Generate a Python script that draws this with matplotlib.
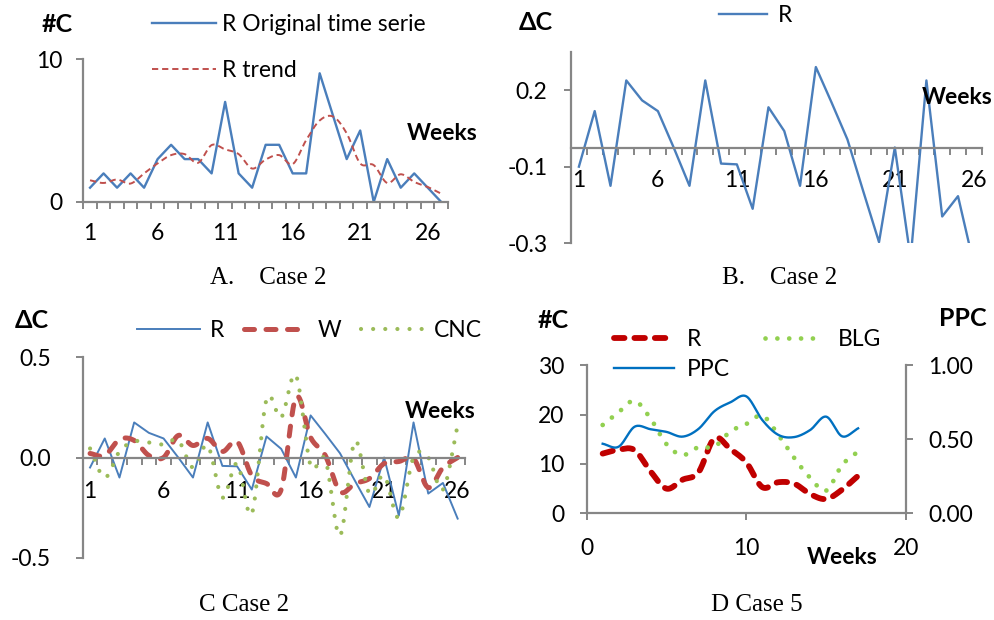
import numpy as np
import matplotlib
matplotlib.use("Agg")
import matplotlib.pyplot as plt

# %%
# values
weeks_a = np.arange(1, 28)
r_original = [1, 2, 1, 2, 1, 3, 4, 3, 3, 2, 7, 2, 1, 4, 4, 2, 2, 9, 6, 3, 5, 0, 3, 1, 2, 1, 0]
r_trend = [1.52, 1.33, 1.57, 1.29, 2.0, 2.7, 3.28, 3.35, 2.74, 3.98, 3.68, 3.35, 2.34,
           2.97, 3.28, 2.65, 4.33, 5.7, 5.97, 4.8, 2.7, 2.58, 1.33, 1.94, 1.4, 1.05, 0.58]

weeks_bc = np.arange(1, 27)
r_delta = [-0.05, 0.095, -0.10, 0.175, 0.123, 0.095, 0.0, -0.10, 0.175, -0.042, -0.044,
           -0.16, 0.105, 0.043, -0.10, 0.21, 0.117, 0.021, -0.114, -0.247, 0.0, -0.29,
           0.175, -0.18, -0.127, -0.305]
w_delta = [0.02, 0.01, 0.09, 0.085, 0.01, 0.0, 0.11, 0.06, 0.095, 0.03, 0.08, -0.09,
           -0.13, -0.16, 0.30, 0.10, 0.01, -0.17, -0.13, -0.105, -0.03, -0.02, -0.005,
           -0.15, -0.05, 0.0]
cnc_delta = [0.045, -0.10, 0.03, 0.08, 0.075, 0.065, 0.085, -0.05, 0.06, -0.20, -0.03,
             -0.28, 0.29, 0.20, 0.41, -0.04, -0.01, -0.39, 0.08, -0.18, -0.09, -0.30,
             0.0, 0.0, -0.16, 0.16]

weeks_d = np.arange(1, 18)
r_count = [12.1, 12.9, 12.8, 8.5, 5.0, 6.8, 8.3, 15.2, 13.0, 10.3, 5.3, 6.3, 6.0, 3.9,
           2.9, 4.8, 7.6]
blg_count = [17.9, 20.5, 22.8, 19.2, 14.0, 11.8, 13.4, 13.5, 16.6, 18.1, 19.8, 15.9,
             11.2, 7.2, 4.6, 9.8, 12.5]
ppc = [0.47, 0.45, 0.585, 0.568, 0.55, 0.518, 0.57, 0.69, 0.75, 0.79, 0.63, 0.53,
       0.515, 0.563, 0.653, 0.52, 0.574]

tick_labels_weeks = ["1", "6", "11", "16", "21", "26"]

# %%
W, H = 994, 620
GRAY = "#868686"
FS = 16.5
FSB = 18
plt.rcParams["font.family"] = ["Lato", "DejaVu Sans"]
plt.rcParams["font.size"] = FS


def box(x0, y0, x1, y1):
    # pixel box (top-left origin) -> figure fraction rect
    return [x0 / W, 1 - y1 / H, (x1 - x0) / W, (y1 - y0) / H]


def fxy(x, y):
    return x / W, 1 - y / H


def smooth(x, y, n=16):
    # catmull-rom curve through the points, like Excel's smoothed line
    x = np.asarray(x, float)
    y = np.asarray(y, float)
    px = np.r_[2 * x[0] - x[1], x, 2 * x[-1] - x[-2]]
    py = np.r_[2 * y[0] - y[1], y, 2 * y[-1] - y[-2]]
    t = np.linspace(0, 1, n, endpoint=False)[:, None]
    out = []
    for p in (px, py):
        p0, p1, p2, p3 = p[:-3], p[1:-2], p[2:-1], p[3:]
        seg = 0.5 * (2 * p1 + (-p0 + p2) * t + (2 * p0 - 5 * p1 + 4 * p2 - p3) * t ** 2
                     + (-p0 + 3 * p1 - 3 * p2 + p3) * t ** 3)
        out.append(np.r_[seg.T.ravel(), p[-2]])
    return out


def style_axes(ax):
    for s in ["top", "right"]:
        ax.spines[s].set_visible(False)
    for s in ["left", "bottom"]:
        ax.spines[s].set_color(GRAY)
        ax.spines[s].set_linewidth(1.6)
    ax.tick_params(colors=GRAY, labelcolor="black", width=1.4, length=5,
                   direction="out", labelsize=FS)


def category_xaxis(ax, n, pad):
    ax.set_xlim(0.5, n + 0.5)
    ax.set_xticks(np.arange(0.5, n + 1, 1))
    ax.set_xticklabels([])
    ax.set_xticks([1, 6, 11, 16, 21, 26], minor=True)
    ax.set_xticklabels(tick_labels_weeks, minor=True)
    ax.tick_params(axis="x", which="minor", length=0, pad=pad)


def label(x, y, s, size=FSB):
    fig.text(*fxy(x, y), s, fontsize=size, fontweight="bold", ha="center", va="center")


def caption(x, y, s):
    fig.text(*fxy(x, y), s, fontsize=18, family="Liberation Serif", ha="center", va="center")


fig = plt.figure(figsize=(W / 100, H / 100), dpi=100)

# %%
# A. original series and trend
ax = fig.add_axes(box(83.3, 59, 448, 202))
style_axes(ax)
ax.plot(weeks_a, r_original, color="#4a7ebb", lw=1.7, label="R Original time serie")
sx, sy = smooth(weeks_a, r_trend)
ax.plot(sx, sy, color="#c0504d", lw=1.4, ls=(0, (3.2, 2.0)), label="R trend")
category_xaxis(ax, 27, 15)
ax.set_ylim(0, 10)
ax.set_yticks([0, 10])
ax.tick_params(axis="y", pad=10)
ax.legend(loc="upper left", bbox_to_anchor=fxy(152, 14), bbox_transform=fig.transFigure,
          frameon=False, borderpad=0, borderaxespad=0, handlelength=2.8,
          handletextpad=0.26, labelspacing=1.1, fontsize=FS)
label(57, 25, "#C")
label(442, 133, "Weeks", FS)
caption(268, 278, "A.    Case 2")

# %%
# B. weekly change of R
ax = fig.add_axes(box(571, 51.7, 981.7, 243.3))
style_axes(ax)
ax.plot(weeks_bc, r_delta, color="#4a7ebb", lw=1.7, label="R")
category_xaxis(ax, 26, 16)
ax.spines["bottom"].set_position(("data", 0))
ax.set_ylim(-0.25, 0.25)
ax.set_yticks([-0.25, -0.05, 0.15])
ax.set_yticklabels(["-0.3", "-0.1", "0.2"])
ax.tick_params(axis="y", pad=12)
ax.legend(loc="upper left", bbox_to_anchor=fxy(719, 5), bbox_transform=fig.transFigure,
          frameon=False, borderpad=0, borderaxespad=0, handlelength=2.1,
          handletextpad=0.45, fontsize=FS)
label(536, 22, "\u0394C")
label(957, 97, "Weeks", FS)
caption(780, 278, "B.    Case 2")

# %%
# C. weekly change of R, W and CNC
ax = fig.add_axes(box(82.7, 357.3, 465, 557.7))
style_axes(ax)
ax.plot(weeks_bc, r_delta, color="#4a7ebb", lw=1.4, label="R")
sx, sy = smooth(weeks_bc, w_delta)
ax.plot(sx, sy, color="#c0504d", lw=3.6, ls=(0, (2.0, 2.3)), dash_capstyle="round",
        label="W")
sx, sy = smooth(weeks_bc, cnc_delta)
ax.plot(sx, sy, color="#9bbb59", lw=3.0, ls=(0, (0.01, 2.9)), dash_capstyle="round",
        label="CNC")
category_xaxis(ax, 26, 17)
ax.spines["bottom"].set_position(("data", 0))
ax.set_ylim(-0.5, 0.5)
ax.set_yticks([-0.5, 0.0, 0.5])
ax.set_yticklabels(["-0.5", "0.0", "0.5"])
ax.tick_params(axis="y", pad=18)
ax.legend(loc="upper left", bbox_to_anchor=fxy(137, 320), bbox_transform=fig.transFigure,
          frameon=False, borderpad=0, borderaxespad=0, ncol=3, handlelength=2.75,
          handletextpad=0.45, columnspacing=0.85, fontsize=FS)
label(32, 320, "\u0394C")
label(440, 412, "Weeks", FS)
caption(244, 605, "C Case 2")

# %%
# D. counts (left) and PPC (right), case 5
ax = fig.add_axes(box(586.7, 365.3, 906, 513.3))
style_axes(ax)
sx, sy = smooth(weeks_d, r_count)
l_r, = ax.plot(sx, sy, color="#c00000", lw=4.2, ls=(0, (1.8, 1.7)), dash_capstyle="round",
               label="R")
sx, sy = smooth(weeks_d, blg_count)
l_b, = ax.plot(sx, sy, color="#92d050", lw=3.4, ls=(0, (0.01, 2.5)), dash_capstyle="round",
               label="BLG")
ax.set_xlim(0, 20)
ax.set_xticks([0, 10, 20])
ax.set_ylim(0, 30)
ax.set_yticks([0, 10, 20, 30])
ax.tick_params(axis="y", pad=11)
ax.tick_params(axis="x", pad=13)
ax2 = ax.twinx()
for s in ["top", "left", "bottom"]:
    ax2.spines[s].set_visible(False)
ax2.spines["right"].set_color(GRAY)
ax2.spines["right"].set_linewidth(1.6)
sx, sy = smooth(weeks_d, ppc)
l_p, = ax2.plot(sx, sy, color="#0070c0", lw=1.7, label="PPC")
ax2.set_ylim(0, 1)
ax2.set_yticks([0, 0.5, 1.0])
ax2.set_yticklabels(["0.00", "0.50", "1.00"])
ax2.tick_params(colors=GRAY, labelcolor="black", width=1.4, length=5, labelsize=FS, pad=11)
ax2.legend(handles=[l_r, l_p, l_b], loc="upper left", bbox_to_anchor=fxy(614, 329),
           bbox_transform=fig.transFigure, frameon=False, borderpad=0, borderaxespad=0,
           ncol=2, handlelength=2.6, handletextpad=0.6, columnspacing=1.5,
           labelspacing=0.4, fontsize=FS)
label(553, 321, "#C")
label(963, 319, "PPC")
label(842, 558, "Weeks", FS)
caption(757, 605, "D Case 5")

fig.savefig("out.png", dpi=100)
